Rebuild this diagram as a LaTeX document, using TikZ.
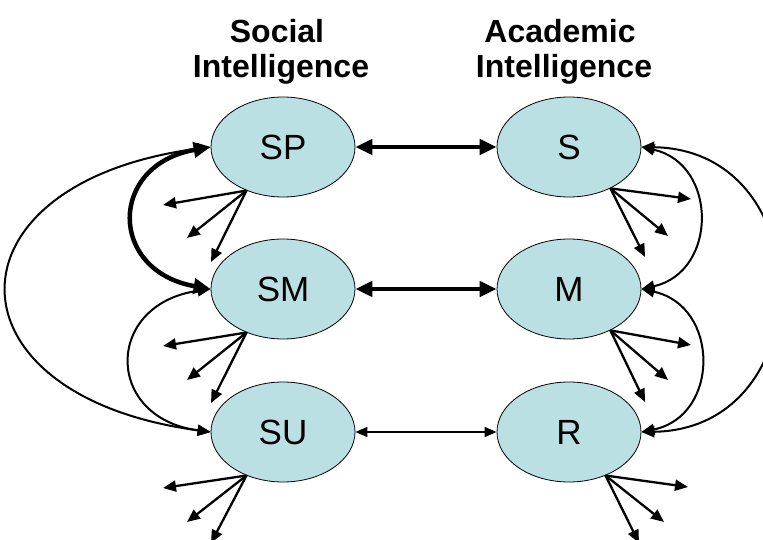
\documentclass[tikz,border=0pt]{standalone}
\usepackage{fontspec}
\setmainfont{Liberation Sans}
\usetikzlibrary{arrows.meta,shapes.geometric}
\definecolor{ellfill}{RGB}{187,224,227}
\begin{document}
\begin{tikzpicture}[x=1pt,y=-1pt,
  latent/.style={ellipse,draw=black,line width=0.8pt,fill=ellfill,minimum width=144pt,minimum height=100pt,inner sep=0pt,font=\fontsize{35}{40}\selectfont},
  titletext/.style={anchor=base,inner sep=0pt,font=\fontsize{32}{36}\selectfont\bfseries},
  thintip/.tip={Triangle[length=13pt,width=11pt]},
  bigtip/.tip={Triangle[length=17pt,width=15pt]},
  thinboth/.style={line width=2pt,thintip-thintip},
  thickboth/.style={line width=4.5pt,bigtip-bigtip},
  finedbl/.style={line width=1.4pt,{Triangle[length=12pt,width=10pt]}-{Triangle[length=12pt,width=10pt]}},
  resid/.style={line width=2.3pt,-thintip}
]
\path[use as bounding box] (0,0) rectangle (763,540);
\clip (0,0) rectangle (763,540);

% titles
\node[titletext] (t1a) at (277,43) {Social};
\node[titletext] (t1b) at (281,78) {Intelligence};
\node[titletext] (t2a) at (560,43) {Academic};
\node[titletext] (t2b) at (564,78) {Intelligence};

% nodes
\node[latent] (sp) at (283,147) {SP};
\node[latent] (sm) at (283,289) {SM};
\node[latent] (su) at (283,432) {SU};
\node[latent] (s) at (569,147) {S};
\node[latent] (m) at (569,289) {M};
\node[latent] (r) at (569,432) {R};

% horizontal connectors
\draw[thickboth] (sp) -- (s);
\draw[thickboth] (sm) -- (m);
\draw[finedbl] (su) -- (r);

% left curves
\draw[thickboth] (sp.west) .. controls (108,165) and (108,271) .. (sm.west);
\draw[thinboth] (sm.west) .. controls (104,304) and (104,418) .. (su.west);
\draw[thinboth] (sp.west) .. controls (-60,182) and (-60,396) .. (su.west);

% right curves
\draw[thinboth] (s.east) .. controls (718,164) and (718,272) .. (m.east);
\draw[thinboth] (m.east) .. controls (720,306) and (720,416) .. (r.east);
\draw[thinboth] (s.east) .. controls (822,150) and (822,429) .. (r.east);

% residual arrows
\coordinate (a1) at (163,205); \coordinate (a2) at (187,238); \coordinate (a3) at (211,262);
\coordinate (b1) at (163,346); \coordinate (b2) at (187,380); \coordinate (b3) at (211,403);
\coordinate (c1) at (163,488); \coordinate (c2) at (187,522); \coordinate (c3) at (211,543);
\coordinate (d1) at (691,199); \coordinate (d2) at (668,236); \coordinate (d3) at (645,257);
\coordinate (e1) at (691,345); \coordinate (e2) at (668,380); \coordinate (e3) at (645,402);
\coordinate (f1) at (688,487); \coordinate (f2) at (664,522); \coordinate (f3) at (639,543);

\foreach \n in {a1,a2,a3} \draw[resid] (sp.230) -- (\n);
\foreach \n in {b1,b2,b3} \draw[resid] (sm.230) -- (\n);
\foreach \n in {c1,c2,c3} \draw[resid] (su.230) -- (\n);
\foreach \n in {d1,d2,d3} \draw[resid] (s.315) -- (\n);
\foreach \n in {e1,e2,e3} \draw[resid] (m.315) -- (\n);
\foreach \n in {f1,f2,f3} \draw[resid] (r.310) -- (\n);
\end{tikzpicture}
\end{document}
